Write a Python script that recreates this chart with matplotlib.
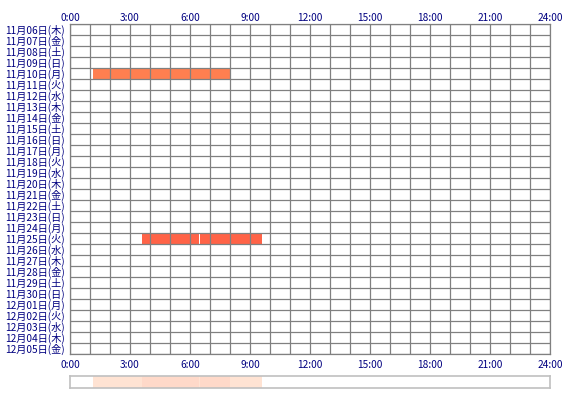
import matplotlib
matplotlib.use("Agg")
import matplotlib.pyplot as plt
import numpy as np

plt.rcParams['font.family'] = ['Noto Sans CJK JP', 'DejaVu Sans']

days = ['11月06日(木)', '11月07日(金)', '11月08日(土)', '11月09日(日)', '11月10日(月)',
        '11月11日(火)', '11月12日(水)', '11月13日(木)', '11月14日(金)', '11月15日(土)',
        '11月16日(日)', '11月17日(月)', '11月18日(火)', '11月19日(水)', '11月20日(木)',
        '11月21日(金)', '11月22日(土)', '11月23日(日)', '11月24日(月)', '11月25日(火)',
        '11月26日(水)', '11月27日(木)', '11月28日(金)', '11月29日(土)', '11月30日(日)',
        '12月01日(月)', '12月02日(火)', '12月03日(水)', '12月04日(木)', '12月05日(金)']
hour_labels = ['0:00', '3:00', '6:00', '9:00', '12:00', '15:00', '18:00', '21:00', '24:00']

# sessions: day, start hour, end hour
bar_day = ['11月10日(月)', '11月25日(火)', '11月25日(火)']
bar_start = [1.17, 3.6, 6.52]
bar_end = [8.0, 6.45, 9.6]
bar_color = ['#ff7f50', '#ff6347', '#ff6347']

navy = '#000080'
fig = plt.figure(figsize=(5.7, 4.0), dpi=100)
ax = fig.add_axes([70/570, 1-354/400, 480/570, 330/400])

for d, s, e, c in zip(bar_day, bar_start, bar_end, bar_color):
    i = days.index(d)
    ax.barh(i + 0.5, e - s, left=s, height=0.95, color=c, zorder=1)

ax.set_xlim(0, 24)
ax.set_ylim(len(days), 0)
ax.set_xticks(np.arange(0, 25, 3))
ax.set_xticklabels(hour_labels)
ax.set_xticks(np.arange(25), minor=True)
ax.set_yticks(np.arange(len(days) + 1))
ax.set_yticklabels([])
ax.set_yticks(np.arange(len(days)) + 0.5, minor=True)
ax.set_yticklabels(days, minor=True)
ax.xaxis.grid(True, which='both', color='#808080', lw=0.9, zorder=3)
ax.yaxis.grid(True, which='major', color='#808080', lw=0.9, zorder=3)
ax.set_axisbelow(False)
ax.tick_params(which='both', length=0, colors=navy, labelsize=7.3)
ax.tick_params(axis='x', pad=4)
ax.tick_params(axis='y', pad=3)
for sp in ax.spines.values():
    sp.set_color('#808080')
    sp.set_linewidth(0.9)

top = ax.secondary_xaxis('top')
top.set_xticks(np.arange(0, 25, 3))
top.set_xticklabels(hour_labels)
top.tick_params(length=0, colors=navy, labelsize=7.3, pad=1)
top.spines['top'].set_visible(False)

# summary strip: shade by how many sessions cover each time
ax2 = fig.add_axes([70/570, 1-388/400, 480/570, 12/400])
edges = sorted(set(bar_start + bar_end))
shades = {1: '#ffe3d3', 2: '#ffd9c9'}
for a, b in zip(edges[:-1], edges[1:]):
    m = (a + b) / 2
    n = sum(1 for s, e in zip(bar_start, bar_end) if s <= m <= e)
    if n:
        ax2.axvspan(a, b, color=shades[min(n, 2)], lw=0)
ax2.set_xlim(0, 24)
ax2.set_ylim(0, 1)
ax2.set_xticks([])
ax2.set_yticks([])
for sp in ax2.spines.values():
    sp.set_color('#c0c0c0')
    sp.set_linewidth(1.2)

fig.savefig('out.png', dpi=100)
